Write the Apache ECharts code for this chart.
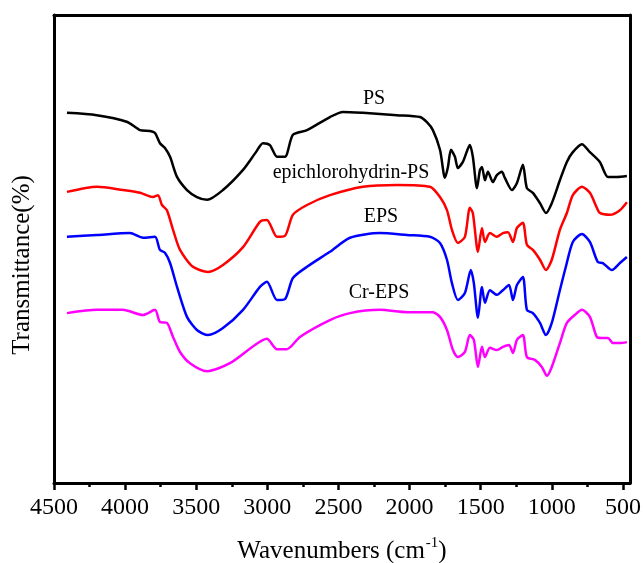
<!DOCTYPE html>
<html>
<head>
<meta charset="utf-8">
<script src="https://cdn.jsdelivr.net/npm/echarts@6/dist/echarts.min.js"></script>
<style>html,body{margin:0;padding:0;background:#fff}#c{width:643px;height:563px}</style>
</head>
<body>
<div id="c"></div>
<script>
// Wavenumbers (cm-1) and transmittance (%, arbitrary offset)
var psWn = [4409,4200,3989,3895,3825,3790,3755,3720,3684,3635,3565,3495,3424,3312,3171,3080,3031,2982,2932,2876,2820,2721,2560,2468,2328,2089,1927,1878,1836,1786,1751,1730,1709,1681,1660,1625,1576,1555,1526,1505,1491,1470,1449,1414,1386,1351,1330,1280,1245,1203,1175,1133,1083,1041,1000,943,894,852,788,732,662,605,542,472];
var psT  = [79.1,78.6,77.2,75.4,75.2,74.8,72.6,71.6,69.7,65.4,62.6,61.1,60.5,62.6,66.9,70.7,72.6,72.2,69.7,69.7,74.4,75.4,78.2,79.3,79.1,78.6,78.2,77.1,75.4,71.2,65.2,67.5,71.2,69.7,67.3,68.6,72.2,69.7,63.0,66.9,67.5,64.7,66.5,64.3,65.8,66.5,65.2,62.6,64.1,68.0,63.0,62.0,59.8,57.7,59.8,64.7,68.6,70.7,72.4,70.7,68.6,65.4,65.4,65.6];

var ecpsWn = [4409,4198,4015,3895,3804,3769,3741,3706,3663,3614,3523,3417,3312,3171,3052,3003,2932,2876,2820,2721,2560,2328,2089,1857,1786,1737,1702,1660,1611,1576,1555,1519,1491,1470,1435,1386,1344,1308,1273,1245,1203,1175,1133,1083,1041,1000,943,894,852,788,732,683,662,591,521,472];
var ecpsT  = [62.2,63.3,62.6,62.0,61.1,61.5,59.4,58.3,54.1,49.8,46.2,45.1,46.6,50.4,55.8,56.2,52.6,52.8,57.3,59.4,61.5,63.3,63.7,63.3,61.1,58.3,54.1,51.3,52.6,58.8,57.7,49.4,54.5,51.5,53.4,52.6,53.4,53.6,51.5,54.5,55.6,50.9,49.8,47.7,45.5,47.7,54.1,57.7,61.5,63.3,62.0,58.8,57.7,57.3,58.3,60.0];

var epsWn = [4409,4198,3966,3874,3790,3755,3720,3684,3635,3565,3495,3417,3312,3171,3052,3003,2932,2876,2820,2721,2560,2419,2208,2018,1857,1786,1737,1702,1660,1611,1569,1548,1519,1491,1470,1435,1386,1344,1301,1273,1245,1203,1175,1133,1083,1041,1000,943,901,852,788,732,676,641,577,521,472];
var epsT  = [52.6,53.0,53.4,52.4,52.6,49.8,49.2,47.0,41.9,35.5,32.7,31.6,33.1,37.0,41.9,43.0,39.1,39.3,43.8,46.2,49.4,52.4,53.4,53.0,52.6,51.3,47.7,42.7,39.1,40.6,45.5,42.7,35.3,41.9,38.5,41.2,40.2,41.2,42.3,39.1,42.3,44.0,37.0,36.3,34.2,31.6,34.2,41.2,46.2,51.5,53.2,51.5,47.2,47.0,45.5,47.0,48.3];

var crWn = [4409,4198,4015,3874,3790,3755,3706,3663,3614,3544,3424,3263,3087,3003,2932,2862,2771,2560,2419,2208,2018,1836,1786,1737,1695,1660,1611,1576,1548,1519,1491,1470,1435,1386,1344,1301,1273,1245,1203,1175,1119,1070,1034,1000,943,894,838,788,732,683,648,605,570,521,472];
var crT  = [36.3,37.0,37.0,35.9,37.0,34.4,34.2,31.2,28.0,25.6,23.9,25.6,29.5,30.8,28.6,28.6,31.2,34.8,36.3,37.0,36.5,36.5,35.5,32.7,28.4,26.9,28.0,31.6,30.6,24.8,29.1,26.9,28.9,28.4,29.1,29.5,27.8,30.6,31.6,26.9,26.3,24.8,22.9,24.8,29.9,34.2,35.9,37.0,35.5,31.2,31.0,31.0,29.9,29.9,30.1];

var seriesNames = ['PS','epichlorohydrin-PS','EPS','Cr-EPS'];
var majorTicks = [4500,4000,3500,3000,2500,2000,1500,1000,500];
var minorTicks = [4250,3750,3250,2750,2250,1750,1250,750];

function pairs(w, t){ return w.map(function(v,i){ return [v, t[i]]; }); }

var FONT = '"Liberation Serif", "Times New Roman", serif';
var chart = echarts.init(document.getElementById('c'));
var colors = ['#000000','#ff0000','#0000ff','#ff00ff'];
var dataSets = [pairs(psWn,psT), pairs(ecpsWn,ecpsT), pairs(epsWn,epsT), pairs(crWn,crT)];

chart.setOption({
  animation: false,
  backgroundColor: '#fff',
  grid: {left: 54, right: 13, top: 15, bottom: 80, containLabel: false, outerBoundsMode: 'none'},
  xAxis: [
    {
      type: 'value', inverse: true, min: 450, max: 4500, position: 'bottom',
      axisLine: {show: true, lineStyle: {color: '#000', width: 3}},
      axisTick: {show: true, inside: false, length: 7, lineStyle: {color: '#000', width: 2.5}, customValues: majorTicks},
      axisLabel: {show: true, customValues: majorTicks, color: '#000', fontFamily: FONT, fontSize: 24, margin: 13,
        formatter: function(v){ return String(v); }},
      splitLine: {show: false},
      name: '{a|Wavenumbers (cm}{s|-1}{a|)}', nameLocation: 'middle', nameGap: 53,
      nameTextStyle: {rich: {
        a: {fontFamily: FONT, fontSize: 25, color: '#000', lineHeight: 28, verticalAlign: 'bottom'},
        s: {fontFamily: FONT, fontSize: 15, color: '#000', lineHeight: 28, verticalAlign: 'top', padding: [0,0,0,1]}
      }}
    },
    {
      type: 'value', inverse: true, min: 450, max: 4500, position: 'bottom',
      axisLine: {show: false},
      axisTick: {show: true, inside: false, length: 4, lineStyle: {color: '#000', width: 2.5}, customValues: minorTicks},
      axisLabel: {show: false}, splitLine: {show: false}
    },
    {
      type: 'value', inverse: true, min: 450, max: 4500, position: 'top',
      axisLine: {show: true, lineStyle: {color: '#000', width: 3}},
      axisTick: {show: false}, axisLabel: {show: false}, splitLine: {show: false}
    }
  ],
  yAxis: [
    {
      type: 'value', min: 0, max: 100, position: 'left',
      axisLine: {show: true, lineStyle: {color: '#000', width: 3}},
      axisTick: {show: false}, axisLabel: {show: false}, splitLine: {show: false}
    },
    {
      type: 'value', min: 0, max: 100, position: 'right',
      axisLine: {show: true, lineStyle: {color: '#000', width: 3}},
      axisTick: {show: false}, axisLabel: {show: false}, splitLine: {show: false}
    }
  ],
  series: seriesNames.map(function(n, i){
    return {
      name: n, type: 'line', xAxisIndex: 0, yAxisIndex: 0,
      data: dataSets[i], showSymbol: false, smooth: 0.25,
      lineStyle: {color: colors[i], width: 2.5}, itemStyle: {color: colors[i]}
    };
  }),
  graphic: [
    {type: 'text', x: 22, y: 265, rotation: Math.PI / 2, style: {text: 'Transmittance(%)', font: '25px ' + FONT, fill: '#000', align: 'center', verticalAlign: 'middle'}},
    {type: 'text', x: 374, y: 99, style: {text: seriesNames[0], font: '20px ' + FONT, fill: '#000', align: 'center', verticalAlign: 'middle'}},
    {type: 'text', x: 351, y: 173, style: {text: seriesNames[1], font: '20px ' + FONT, fill: '#000', align: 'center', verticalAlign: 'middle'}},
    {type: 'text', x: 381, y: 217, style: {text: seriesNames[2], font: '20px ' + FONT, fill: '#000', align: 'center', verticalAlign: 'middle'}},
    {type: 'text', x: 379, y: 293, style: {text: seriesNames[3], font: '20px ' + FONT, fill: '#000', align: 'center', verticalAlign: 'middle'}}
  ]
});
</script>
</body>
</html>
